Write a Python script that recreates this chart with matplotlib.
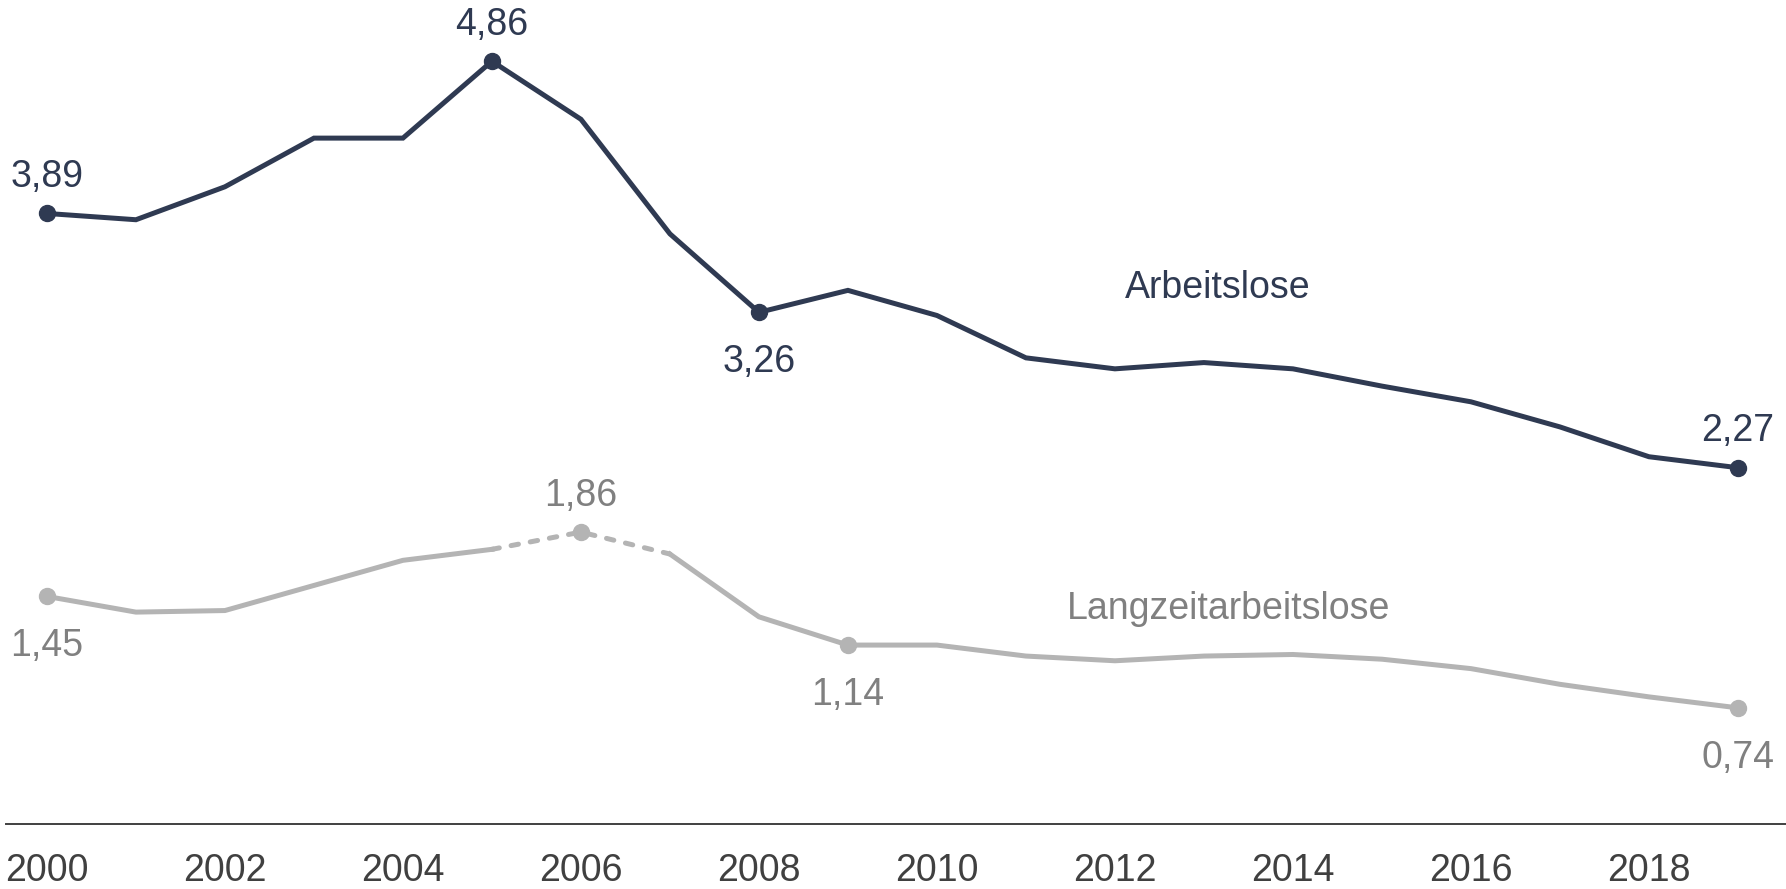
import matplotlib
matplotlib.use("Agg")
import matplotlib.pyplot as plt

years = list(range(2000, 2020))
arbeitslose = [3.89, 3.85, 4.06, 4.37, 4.37, 4.86, 4.49, 3.76, 3.26, 3.40,
               3.24, 2.97, 2.90, 2.94, 2.90, 2.79, 2.69, 2.53, 2.34, 2.27]
langzeit = [1.45, 1.35, 1.36, 1.52, 1.68, 1.75, 1.86, 1.72, 1.32, 1.14,
            1.14, 1.07, 1.04, 1.07, 1.08, 1.05, 0.99, 0.89, 0.81, 0.74]
tick_years = list(range(2000, 2019, 2))

# labelled points: (index, position)
arb_labels = [(0, "above"), (5, "above"), (8, "below"), (19, "above")]
lz_labels = [(0, "below"), (6, "above"), (9, "below"), (19, "below")]
dashed_range = (5, 7)  # indices where the Langzeit line is dashed

DARK = "#2f3a52"
GRAY_LINE = "#b4b4b4"
GRAY_TEXT = "#808080"
AXIS = "#404040"

plt.rcParams["font.family"] = ["Liberation Sans", "DejaVu Sans"]
FS = 27

fig = plt.figure(figsize=(17.86, 8.89), dpi=100)
ax = fig.add_axes([6 / 1786, 65 / 889, 1 - 6 / 1786, 824 / 889])
ax.set_xlim(1999.54, 2019.54)
ax.set_ylim(0, 5.25)

lw = 3.6
ax.plot(years, arbeitslose, color=DARK, lw=lw, solid_joinstyle="miter", zorder=3)

a, b = dashed_range
ax.plot(years[:a + 1], langzeit[:a + 1], color=GRAY_LINE, lw=lw, zorder=2)
ax.plot(years[b:], langzeit[b:], color=GRAY_LINE, lw=lw, zorder=2)
ax.plot(years[a:b + 1], langzeit[a:b + 1], color=GRAY_LINE, lw=lw, zorder=2,
        dashes=(1.5, 2.4), dash_capstyle="round")


def fmt(v):
    return f"{v:.2f}".replace(".", ",")


def add_labels(series, labels, mcolor, tcolor):
    for i, pos in labels:
        ax.plot(years[i], series[i], "o", color=mcolor, ms=11.5, zorder=4)
        off = 19 if pos == "above" else -43
        ax.annotate(fmt(series[i]), (years[i], series[i]), xytext=(0, off),
                    textcoords="offset points", ha="center", va="baseline",
                    fontsize=FS, color=tcolor)


add_labels(arbeitslose, arb_labels, DARK, DARK)
add_labels(langzeit, lz_labels, GRAY_LINE, GRAY_TEXT)

ax.text(2013.15, 3.35, "Arbeitslose", ha="center", va="baseline",
        fontsize=FS, color=DARK)
ax.text(2013.28, 1.305, "Langzeitarbeitslose", ha="center", va="baseline",
        fontsize=FS, color=GRAY_TEXT)

for s in ["top", "left", "right"]:
    ax.spines[s].set_visible(False)
ax.spines["bottom"].set_color(AXIS)
ax.spines["bottom"].set_linewidth(1.4)
ax.set_yticks([])
ax.set_xticks(tick_years)
ax.set_xticklabels([str(y) for y in tick_years], fontsize=FS, color=AXIS)
ax.tick_params(axis="x", length=0, pad=21)
ax.patch.set_visible(False)

fig.savefig("out.png", dpi=100)
